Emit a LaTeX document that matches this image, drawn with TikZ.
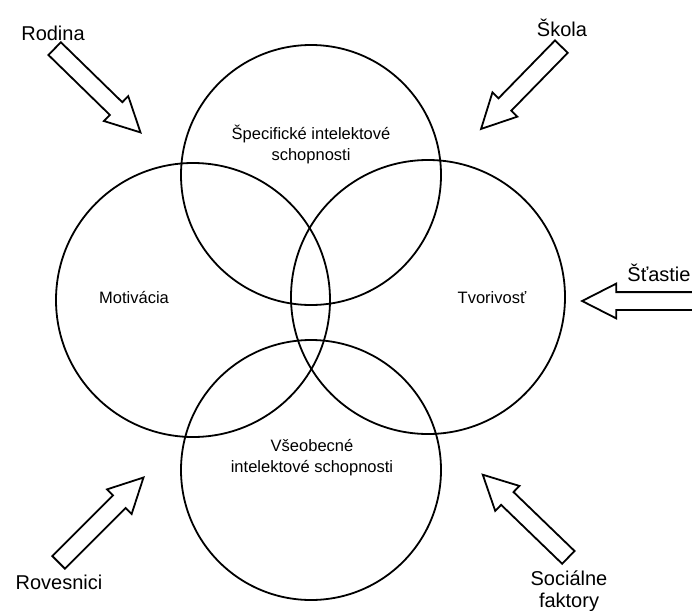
\documentclass[tikz,border=0pt]{standalone}
\usepackage{fontspec}
\setmainfont{Liberation Sans}
\usetikzlibrary{shapes.geometric, shapes.arrows}
\tikzstyle{ring} = [circle, draw=black, line width=1.8pt, inner sep=0pt]
\tikzstyle{influence} = [single arrow, draw=black, line width=1.8pt, inner xsep=0pt, inner ysep=8pt, minimum width=33pt, single arrow head extend=8.5pt, single arrow tip angle=54, anchor=tail]
\tikzstyle{factor} = [font=\fontsize{20}{22}\selectfont, align=center, inner sep=0pt]
\tikzstyle{trait} = [font=\fontsize{16.5}{21}\selectfont, align=center, inner sep=0pt]

\begin{document}
\begin{tikzpicture}[x=1pt, y=-1pt]
			\useasboundingbox (0,0) rectangle (692,610);
			% four overlapping circles
			\node (spec) [ring, minimum size=260pt] at (311,175) {};
			\node (vseo) [ring, minimum size=260pt] at (311,470) {};
			\node (moti) [ring, minimum size=274pt] at (193,300) {};
			\node (tvor) [ring, minimum size=274pt] at (428,297) {};

			\node (specT) [trait] at (311,144) {Špecifické intelektové\\schopnosti};
			\node (motiT) [trait] at (134,298) {Motivácia};
			\node (tvorT) [trait] at (492,298) {Tvorivosť};
			\node (vseoT) [trait] at (312,458) {Všeobecné\\intelektové schopnosti};

			% outer influences
			\node (rodinaA) [influence, minimum height=120pt, rotate=-44.3] at (54,48) {};
			\node (skolaA) [influence, minimum height=115pt, rotate=225.7] at (562,46) {};
			\node (stastieA) [influence, minimum height=117pt, rotate=180] at (700,301) {};
			\node (rovesA) [influence, minimum height=120pt, rotate=45] at (58,563) {};
			\node (socA) [influence, minimum height=119pt, rotate=136] at (569,558) {};

			\node (rodina) [factor] at (53,33) {Rodina};
			\node (skola) [factor] at (562,28) {Škola};
			\node (stastie) [factor] at (659,273) {Šťastie};
			\node (roves) [factor] at (59,582) {Rovesnici};
			\node (soc) [factor] at (569,591) {Sociálne\\faktory};
		\end{tikzpicture}
\end{document}
